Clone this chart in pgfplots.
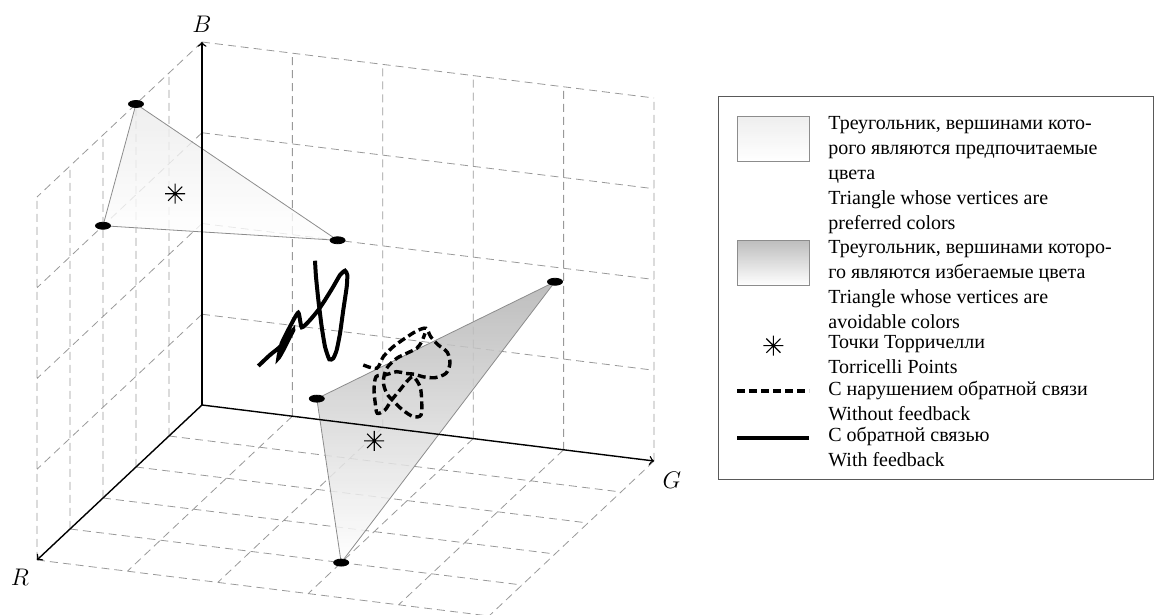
\documentclass[border=0pt]{standalone}
\usepackage{fontspec}
\setmainfont{Liberation Serif}
\usepackage{pgfplots}
\pgfplotsset{compat=1.18}
\pgfdeclareplotmark{star8}{%
  \pgfpathmoveto{\pgfpoint{0pt}{\pgfplotmarksize}}\pgfpathlineto{\pgfpoint{0pt}{-\pgfplotmarksize}}%
  \pgfpathmoveto{\pgfpoint{\pgfplotmarksize}{0pt}}\pgfpathlineto{\pgfpoint{-\pgfplotmarksize}{0pt}}%
  \pgfpathmoveto{\pgfpoint{0.7071\pgfplotmarksize}{0.7071\pgfplotmarksize}}\pgfpathlineto{\pgfpoint{-0.7071\pgfplotmarksize}{-0.7071\pgfplotmarksize}}%
  \pgfpathmoveto{\pgfpoint{-0.7071\pgfplotmarksize}{0.7071\pgfplotmarksize}}\pgfpathlineto{\pgfpoint{0.7071\pgfplotmarksize}{-0.7071\pgfplotmarksize}}%
  \pgfusepathqstroke}
\pgfplotsset{
  arealeg/.style={legend image code/.code={\draw[##1] (0pt,-16pt) rectangle (36pt,6.5pt);}},
  linelegend/.style={legend image code/.code={\draw[##1] (0pt,2pt) -- (36pt,2pt);}},
  markleg/.style={legend image code/.code={\draw[mark repeat=2,mark phase=2,##1] plot coordinates {(0pt,1.5pt) (18pt,1.5pt) (36pt,1.5pt)};}},
}
\begin{document}
\begin{tikzpicture}
\begin{axis}[
  x={(45.2pt,-5.6pt)}, y={(-16.5pt,-15.5pt)}, z={(0pt,45.375pt)},
  xmin=0, xmax=5, ymin=0, ymax=5, zmin=0, zmax=4,
  hide axis, clip=false, unbounded coords=jump,
  legend style={
    at={(1.1037,0.9059)}, anchor=north west,
    draw=black!65, fill=white,
    inner xsep=8.5pt, inner ysep=5pt,
    row sep=1.5pt, column sep=6.5pt,
    cells={anchor=base west},
    nodes={inner xsep=2pt, inner ysep=1pt, text depth=, font=\fontsize{10}{12.5}\selectfont},
  },
]
\coordinate (O) at (axis cs:0,0,0);
% grid on the three back planes
\addplot3[forget plot, black!40, line width=0.4pt, dash pattern=on 4pt off 2.5pt] coordinates {
 (1,0,0) (1,0,4) (nan,nan,nan) (2,0,0) (2,0,4) (nan,nan,nan) (3,0,0) (3,0,4) (nan,nan,nan)
 (4,0,0) (4,0,4) (nan,nan,nan) (5,0,0) (5,0,4) (nan,nan,nan)
 (0,0,1) (5,0,1) (nan,nan,nan) (0,0,2) (5,0,2) (nan,nan,nan) (0,0,3) (5,0,3) (nan,nan,nan) (0,0,4) (5,0,4) (nan,nan,nan)
 (0,1,0) (0,1,4) (nan,nan,nan) (0,2,0) (0,2,4) (nan,nan,nan) (0,3,0) (0,3,4) (nan,nan,nan)
 (0,4,0) (0,4,4) (nan,nan,nan) (0,5,0) (0,5,4) (nan,nan,nan)
 (0,0,1) (0,5,1) (nan,nan,nan) (0,0,2) (0,5,2) (nan,nan,nan) (0,0,3) (0,5,3) (nan,nan,nan) (0,0,4) (0,5,4) (nan,nan,nan)
 (0,1,0) (5,1,0) (nan,nan,nan) (0,2,0) (5,2,0) (nan,nan,nan) (0,3,0) (5,3,0) (nan,nan,nan)
 (0,4,0) (5,4,0) (nan,nan,nan) (0,5,0) (5,5,0) (nan,nan,nan)
 (1,0,0) (1,5,0) (nan,nan,nan) (2,0,0) (2,5,0) (nan,nan,nan) (3,0,0) (3,5,0) (nan,nan,nan)
 (4,0,0) (4,5,0) (nan,nan,nan) (5,0,0) (5,5,0)
};
% triangles
\addplot3[arealeg, draw=black!45, line width=0.4pt, top color=black!8, bottom color=white, fill opacity=0.8]
 coordinates {(0,2,4) (0,3,3) (1.5,0,2) (0,2,4)};
\addlegendentry{\parbox[t]{152pt}{\raggedright\rule{0pt}{10.3pt}Треугольник, вершинами кото-\\рого являются предпочитаемые\\цвета\\Triangle whose vertices are\\preferred colors}}
\addplot3[arealeg, draw=black!45, line width=0.4pt, top color=black!30, bottom color=white, fill opacity=0.85]
 coordinates {(5,3,3) (2,2,1) (3,4,0) (5,3,3)};
\addlegendentry{\parbox[t]{152pt}{\raggedright Треугольник, вершинами которо-\\го являются избегаемые цвета\\Triangle whose vertices are\\avoidable colors}}
% axes
\addplot3[forget plot, ->, black, line width=0.7pt] coordinates {(0,0,0) (5,0,0)};
\addplot3[forget plot, ->, black, line width=0.7pt] coordinates {(0,0,0) (0,5,0)};
\addplot3[forget plot, ->, black, line width=0.7pt] coordinates {(0,0,0) (0,0,4)};
\node[inner sep=0pt] at (axis cs:5,0,0) [xshift=9pt, yshift=-9.5pt] {\large$G$};
\node[inner sep=0pt] at (axis cs:0,5,0) [xshift=-8.5pt, yshift=-8.5pt] {\large$R$};
\node[inner sep=0pt, anchor=south] at (axis cs:0,0,4) [yshift=4.5pt] {\large$B$};
% Torricelli points
\addplot3[markleg, only marks, mark=star8, mark size=5pt, black, mark options={line width=0.55pt}]
 coordinates {(0.40,1.91,3.03) (3,3,1)};
\addlegendentry{\parbox[t]{152pt}{\raggedright Точки Торричелли\\Torricelli Points}}
% without feedback
\addplot3[linelegend, black, line width=1.7pt, dash pattern=on 4pt off 2pt, smooth, tension=0.5] coordinates {
 (1.784,0,0.661) (1.933,0,0.643) (2.006,0,0.780) (2.116,0,0.904) (2.246,0,1.012) (2.375,0,1.109)
 (2.478,0,1.151) (2.530,0,1.065) (2.614,0,0.984) (2.713,0,0.916) (2.743,0,0.798) (2.699,0,0.682)
 (2.577,0,0.619) (2.441,0,0.613) (2.356,0,0.629) (2.246,0,0.626) (2.154,0,0.633) (2.024,0,0.580)
 (1.925,0,0.549) (1.903,0,0.400) (1.917,0,0.255) (1.939,0,0.148) (2.024,0,0.195) (2.098,0,0.314)
 (2.190,0,0.436) (2.264,0,0.536) (2.337,0,0.600) (2.412,0,0.499) (2.430,0,0.355) (2.423,0,0.189)
 (2.337,0,0.160) (2.220,0,0.219) (2.116,0,0.305) (2.043,0,0.381) (2.006,0,0.504) (2.043,0,0.657)
 (2.154,0,0.780) (2.264,0,0.849) (2.375,0,0.918) (2.430,0,0.997) (2.467,0,1.094)
};
\addlegendentry{\parbox[t]{152pt}{\raggedright С нарушением обратной связи\\Without feedback}}
% with feedback
\addplot3[linelegend, black, line width=2pt, smooth, tension=0.35] coordinates {
 (1.250,0,1.744) (1.261,0,1.569) (1.287,0,1.316) (1.324,0,1.026) (1.361,0,0.810) (1.408,0,0.677)
 (1.452,0,0.694) (1.490,0,0.790) (1.527,0,0.979) (1.563,0,1.240) (1.601,0,1.501) (1.607,0,1.631)
 (1.582,0,1.675) (1.527,0,1.621) (1.452,0,1.483) (1.361,0,1.325) (1.287,0,1.206) (1.195,0,1.084)
 (1.103,0,0.992) (1.065,0,1.149) (0.973,0,0.983) (0.882,0,0.789) (0.844,0,0.619) (0.899,0,0.717)
 (0.973,0,0.873) (1.010,0,0.951) (0.863,0,0.749) (0.752,0,0.644) (0.623,0,0.507)
};
\addlegendentry{\parbox[t]{152pt}{\raggedright С обратной связью\\With feedback}}
% vertices
\addplot3[forget plot, only marks, mark=*, mark size=1.75pt, black, mark options={xscale=2.15}]
 coordinates {(0,2,4) (0,3,3) (1.5,0,2) (2,2,1) (5,3,3) (3,4,0)};
\end{axis}
\pgfresetboundingbox
\path[use as bounding box] ([shift={(-101pt,-105pt)}]O) rectangle ([shift={(479.5pt,202.5pt)}]O);
\end{tikzpicture}
\end{document}
